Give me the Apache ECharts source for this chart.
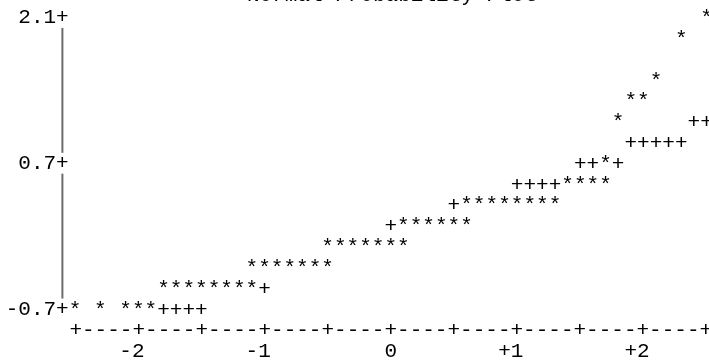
<!DOCTYPE html>
<html>
<head>
<meta charset="utf-8">
<script src="https://cdn.jsdelivr.net/npm/echarts@6/dist/echarts.min.js"></script>
<style>
  html, body { margin: 0; padding: 0; background: #fff; }
  #plot { width: 709px; height: 362px; }
</style>
</head>
<body>
<div id="plot"></div>
<script>
const FONT = '21px "Liberation Mono", "DejaVu Sans Mono", monospace';
const GLYPH_DY = 1;

// data points (theoretical quantile, observed value), drawn as '*'
const starPoints = [
    [2.5, 2.1],
    [2.3, 1.9],
    [2.1, 1.5],
    [1.9, 1.3], [2.0, 1.3],
    [1.8, 1.1],
    [1.7, 0.7],
    [1.4, 0.5], [1.5, 0.5], [1.6, 0.5], [1.7, 0.5],
    [0.6, 0.3], [0.7, 0.3], [0.8, 0.3], [0.9, 0.3], [1.0, 0.3], [1.1, 0.3], [1.2, 0.3], [1.3, 0.3],
    [0.1, 0.1], [0.2, 0.1], [0.3, 0.1], [0.4, 0.1], [0.5, 0.1], [0.6, 0.1],
    [-0.5, -0.1], [-0.4, -0.1], [-0.3, -0.1], [-0.2, -0.1], [-0.1, -0.1], [0.0, -0.1], [0.1, -0.1],
    [-1.1, -0.3], [-1.0, -0.3], [-0.9, -0.3], [-0.8, -0.3], [-0.7, -0.3], [-0.6, -0.3], [-0.5, -0.3],
    [-1.8, -0.5], [-1.7, -0.5], [-1.6, -0.5], [-1.5, -0.5], [-1.4, -0.5], [-1.3, -0.5], [-1.2, -0.5], [-1.1, -0.5],
    [-2.5, -0.7], [-2.3, -0.7], [-2.1, -0.7], [-2.0, -0.7], [-1.9, -0.7]
];

// reference normal line, drawn as '+' where not covered by a '*'
const plusPoints = [
    [2.4, 1.1], [2.5, 1.1],
    [1.9, 0.9], [2.0, 0.9], [2.1, 0.9], [2.2, 0.9], [2.3, 0.9],
    [1.5, 0.7], [1.6, 0.7], [1.8, 0.7],
    [1.0, 0.5], [1.1, 0.5], [1.2, 0.5], [1.3, 0.5],
    [0.5, 0.3],
    [0.0, 0.1],
    [-1.0, -0.5],
    [-1.8, -0.7], [-1.7, -0.7], [-1.6, -0.7], [-1.5, -0.7]
];

const yTicks = [2.1, 0.7, -0.7];
const xTicks = [-2, -1, 0, 1, 2];
const xRuleText = '+' + '----+'.repeat(10);

let chart = echarts.init(document.getElementById('plot'), null, {renderer: 'canvas'});

function textAt(api, x, y, str) {
    let p = api.coord([x, y]);
    return {
        type: 'text',
        x: p[0],
        y: p[1] + GLYPH_DY,
        style: {text: str, font: FONT, fill: '#000', align: 'center', verticalAlign: 'middle'}
    };
}

function glyphSeries(points, glyph) {
    return {
        type: 'custom',
        clip: false,
        silent: true,
        data: points,
        renderItem: function (params, api) {
            return textAt(api, api.value(0), api.value(1), glyph);
        }
    };
}

// vertical rule between the y tick labels
let ruleSegments = [];
for (let i = 0; i < yTicks.length - 1; i++) {
    ruleSegments.push([yTicks[i], yTicks[i + 1]]);
}

chart.setOption({
    animation: false,
    title: {
        text: 'Normal Probability Plot',
        left: 247,
        top: -15,
        padding: 0,
        textStyle: {fontFamily: '"Liberation Mono", monospace', fontSize: 21, lineHeight: 21, fontWeight: 'normal', color: '#000'}
    },
    grid: {left: 62.4, right: 2.5, top: 17.5, bottom: 49.5},
    xAxis: {
        type: 'value',
        min: -2.6,
        max: 2.5,
        axisLine: {show: false},
        axisTick: {show: false},
        splitLine: {show: false},
        axisLabel: {
            customValues: xTicks,
            margin: 32,
            fontFamily: '"Liberation Mono", monospace',
            fontSize: 21,
            color: '#000',
            formatter: function (v) {
                if (v === 0) return '0';
                return (v > 0 ? '+' + v : String(v)) + ' ';
            }
        }
    },
    yAxis: {
        type: 'value',
        min: -0.7,
        max: 2.1,
        axisLine: {show: false},
        axisTick: {show: false},
        splitLine: {show: false},
        axisLabel: {
            customValues: yTicks,
            margin: -6.3,
            fontFamily: '"Liberation Mono", monospace',
            fontSize: 21,
            color: '#000',
            formatter: function (v) {
                return v.toFixed(1) + '+';
            }
        }
    },
    series: [
        {
            type: 'custom',
            clip: false,
            silent: true,
            data: ruleSegments,
            renderItem: function (params, api) {
                let a = api.coord([-2.6, api.value(0) - 0.1]);
                let b = api.coord([-2.6, api.value(1) + 0.1]);
                return {
                    type: 'line',
                    shape: {x1: a[0], y1: a[1], x2: b[0], y2: b[1]},
                    style: {stroke: '#6b6b6b', lineWidth: 2}
                };
            }
        },
        {
            type: 'custom',
            clip: false,
            silent: true,
            data: [[0, -0.9]],
            renderItem: function (params, api) {
                return textAt(api, api.value(0), api.value(1), xRuleText);
            }
        },
        glyphSeries(plusPoints, '+'),
        glyphSeries(starPoints, '*')
    ]
});
</script>
</body>
</html>
